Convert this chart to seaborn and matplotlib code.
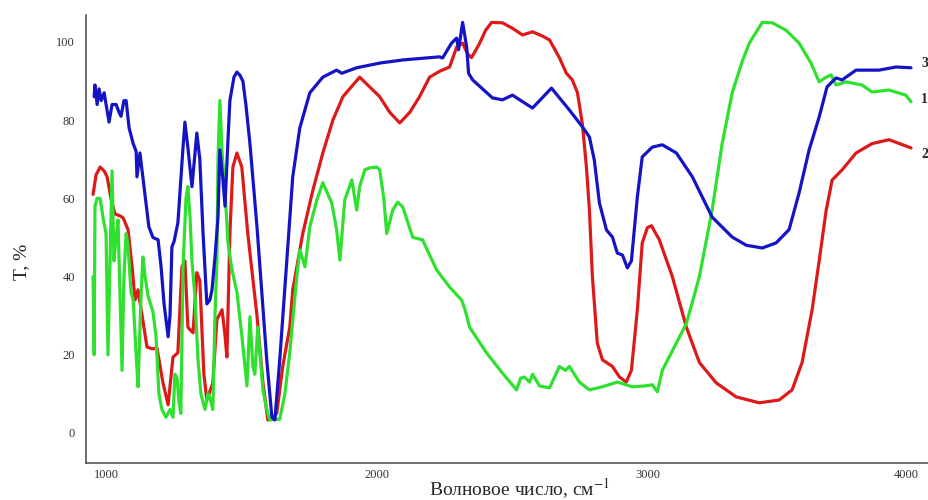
import matplotlib
matplotlib.use("Agg")
import matplotlib.pyplot as plt
import seaborn as sns

# ---- спектр 1 (зелёный) ----
wn_1 = [952, 956, 959, 967, 978, 989, 1000, 1007, 1015, 1022, 1029, 1037, 1044, 1059, 1066,
        1074, 1081, 1092, 1100, 1111, 1118, 1129, 1136, 1144, 1155, 1173, 1184, 1195, 1206,
        1221, 1236, 1247, 1254, 1262, 1269, 1276, 1284, 1295, 1302, 1310, 1317, 1328, 1339,
        1350, 1365, 1376, 1383, 1394, 1402, 1409, 1413, 1420, 1428, 1439, 1450, 1464, 1483,
        1501, 1520, 1531, 1542, 1549, 1560, 1568, 1579, 1593, 1604, 1623, 1641, 1660, 1678,
        1704, 1715, 1734, 1752, 1778, 1800, 1833, 1851, 1863, 1881, 1907, 1918, 1925, 1936,
        1955, 1973, 1999, 2010, 2025, 2036, 2058, 2076, 2095, 2132, 2168, 2220, 2268, 2312,
        2323, 2342, 2404, 2463, 2515, 2530, 2544, 2563, 2574, 2600, 2637, 2673, 2696, 2710,
        2747, 2784, 2832, 2887, 2943, 2987, 3016, 3035, 3053, 3105, 3142, 3190, 3237, 3274,
        3311, 3348, 3374, 3422, 3459, 3510, 3558, 3602, 3632, 3658, 3676, 3694, 3731, 3790,
        3827, 3890, 3952, 3971]
t_1 = [40, 20, 58, 60, 60, 55, 51, 20, 45, 67, 44, 50, 54.5, 16, 40,
       51, 48, 36, 34, 20, 11.8, 35, 45, 40, 35, 31, 25, 10, 6,
       4, 6, 4, 15, 14, 8, 5, 42.5, 60, 63, 55, 44, 35, 19,
       10, 6, 10, 9, 6, 30, 44, 70, 85, 72, 62, 48.6, 42, 36,
       25, 12, 29.7, 17, 15, 27, 20, 11, 6, 3.3, 3.5, 3.5, 10, 20.5,
       40, 46.8, 42.5, 52.7, 59.6, 64, 58.8, 52, 44.2, 59.6, 64.7, 60, 57, 63,
       67.3, 67.8, 68, 67.3, 60, 51, 57, 59, 57.8, 50, 49.4, 41.7, 37.3, 34,
       32, 27, 20.5, 15.3, 11, 14, 14.3, 13, 15, 12, 11.5, 17, 16, 17,
       13, 11, 11.8, 13, 11.8, 12, 12.3, 10.5, 16, 23, 28, 40, 57, 74,
       87, 95, 99.7, 105, 104.9, 103, 99.7, 94.6, 89.8, 91, 91.6, 89, 89.8, 89,
       87.2, 87.7, 86.4, 84.7]

# ---- спектр 2 (красный) ----
wn_2 = [952, 963, 978, 993, 1004, 1018, 1033, 1052, 1063, 1081, 1096, 1107, 1118, 1133, 1151,
        1170, 1188, 1210, 1229, 1247, 1265, 1280, 1291, 1302, 1321, 1335, 1346, 1361, 1372,
        1394, 1409, 1428, 1439, 1446, 1457, 1468, 1483, 1501, 1523, 1557, 1579, 1597, 1616,
        1630, 1652, 1678, 1689, 1726, 1763, 1800, 1837, 1874, 1936, 1973, 2010, 2047, 2084,
        2121, 2157, 2194, 2231, 2268, 2294, 2316, 2334, 2349, 2379, 2401, 2423, 2463, 2500,
        2537, 2574, 2611, 2637, 2673, 2699, 2721, 2740, 2758, 2773, 2784, 2795, 2813, 2832,
        2869, 2895, 2920, 2939, 2961, 2979, 2998, 3013, 3042, 3090, 3142, 3190, 3252, 3326,
        3411, 3484, 3532, 3569, 3606, 3632, 3658, 3680, 3717, 3768, 3827, 3890, 3971]
t_2 = [61, 66, 68, 67, 65.5, 60, 56, 55.5, 55, 52, 42.5, 34, 36.6, 30, 22,
       21.5, 21.7, 12.8, 7.2, 19.4, 20.5, 42.5, 44, 27, 25.6, 41, 39, 15, 8.4,
       12.8, 29, 31.5, 25, 19.4, 51, 68, 71.6, 68, 51, 30, 12.8, 3.3, 3.8,
       5, 17, 27, 36.6, 51, 62, 71.6, 80, 86, 91, 88.5, 86, 82, 79.3,
       82, 86, 91, 92.5, 93.6, 98.7, 99.7, 97, 96, 99.7, 103, 105, 104.9, 103.5,
       101.8, 102.6, 101.5, 100.5, 96, 92, 90.3, 87, 79, 68, 57, 40, 23, 18.7,
       17, 14.3, 13, 16, 31.5, 48.6, 52.5, 53, 49.4, 40, 27, 18, 12.8, 9.2,
       7.7, 8.4, 11, 18, 31.5, 44, 57, 64.7, 67.3, 71.6, 74, 75, 72.9]

# ---- спектр 3 (синий) ----
wn_3 = [956, 959, 967, 974, 982, 993, 1000, 1011, 1022, 1037, 1048, 1055, 1066, 1074, 1085,
        1100, 1111, 1114, 1125, 1140, 1158, 1173, 1192, 1203, 1214, 1229, 1236, 1243, 1251,
        1265, 1284, 1291, 1302, 1317, 1335, 1346, 1358, 1372, 1383, 1391, 1402, 1413, 1420,
        1431, 1439, 1450, 1457, 1472, 1483, 1494, 1505, 1516, 1531, 1557, 1575, 1593, 1612,
        1623, 1641, 1667, 1689, 1715, 1752, 1800, 1851, 1870, 1925, 2010, 2095, 2231, 2242,
        2275, 2294, 2301, 2316, 2331, 2338, 2353, 2426, 2463, 2500, 2574, 2644, 2710, 2758,
        2784, 2802, 2821, 2847, 2869, 2887, 2906, 2924, 2939, 2961, 2979, 3016, 3053, 3105,
        3164, 3237, 3311, 3363, 3422, 3473, 3521, 3558, 3595, 3632, 3661, 3694, 3717, 3768,
        3853, 3916, 3971]
t_3 = [86, 89, 84, 88, 85, 87, 84, 79.5, 84, 84, 82, 81, 85, 85, 78,
       74, 72, 65.5, 71.6, 63, 52.7, 50, 49.4, 42.5, 33, 24.6, 30, 47.6, 49,
       53.7, 73, 79.5, 73, 63, 76.7, 70, 51, 33, 34, 36.6, 45, 55, 72.4,
       65, 58, 75, 85, 91, 92.3, 91.5, 90, 84, 74, 52.7, 35.8, 18.7, 4,
       3.3, 18.7, 44, 65.5, 78, 87, 91, 92.8, 92, 93.4, 94.6, 95.4, 96.2, 95.9,
       99.7, 101, 98, 105, 98.7, 92, 90.3, 85.7, 85.2, 86.4, 83.1, 88.2, 82.6, 78.3,
       75.7, 69.8, 58.8, 51.9, 50.1, 46, 45.5, 42.2, 44, 60.4, 70.6, 73.1, 73.7, 71.6,
       65.5, 55.2, 50.1, 48, 47.3, 48.6, 52, 61.4, 72.4, 80.8, 88.5, 90.8, 90.3, 92.8,
       92.8, 93.6, 93.4]

curve_names = ["1", "2", "3"]
curve_label_t = [85.2, 71.1, 94.6]

sns.set_theme(style="white")
plt.rcParams['font.family'] = ['Liberation Serif', 'DejaVu Serif']
plt.rcParams['mathtext.fontset'] = 'stix'

fig = plt.figure(figsize=(9.29, 5.0), dpi=100)
ax = fig.add_axes([0.0926, 0.074, 0.9064, 0.896])

sns.lineplot(x=wn_2, y=t_2, color="#dd1a1a", lw=2.3, ax=ax, estimator=None, sort=False)
sns.lineplot(x=wn_1, y=t_1, color="#2fe02f", lw=2.3, ax=ax, estimator=None, sort=False)
sns.lineplot(x=wn_3, y=t_3, color="#1414c4", lw=2.3, ax=ax, estimator=None, sort=False)

for name, t in zip(curve_names, curve_label_t):
    ax.text(4022, t, name, ha="center", va="center", fontsize=10, fontweight="bold")

ax.set_xlim(926, 4034)
ax.set_ylim(-7.7, 106.9)
ax.set_xticks([1000, 2000, 3000, 4000])
ax.set_yticks([0, 20, 40, 60, 80, 100])
ax.tick_params(axis="both", length=0, labelsize=9, colors="#333333")
ax.tick_params(axis="y", pad=8)
ax.tick_params(axis="x", pad=4)
# последняя подпись у самого края — прижимаем вправо, чтобы не обрезалась
ax.get_xticklabels()[-1].set_horizontalalignment("right")

ax.set_xlabel("Волновое число, см$^{-1}$", fontsize=14)
ax.set_ylabel("T, %", fontsize=14)
ax.xaxis.set_label_coords(0.515, -0.03)
ax.yaxis.set_label_coords(-0.066, 0.45)

sns.despine(ax=ax)
for side in ["left", "bottom"]:
    ax.spines[side].set_color("#555555")
    ax.spines[side].set_linewidth(1.2)

fig.savefig("out.png", dpi=100)
